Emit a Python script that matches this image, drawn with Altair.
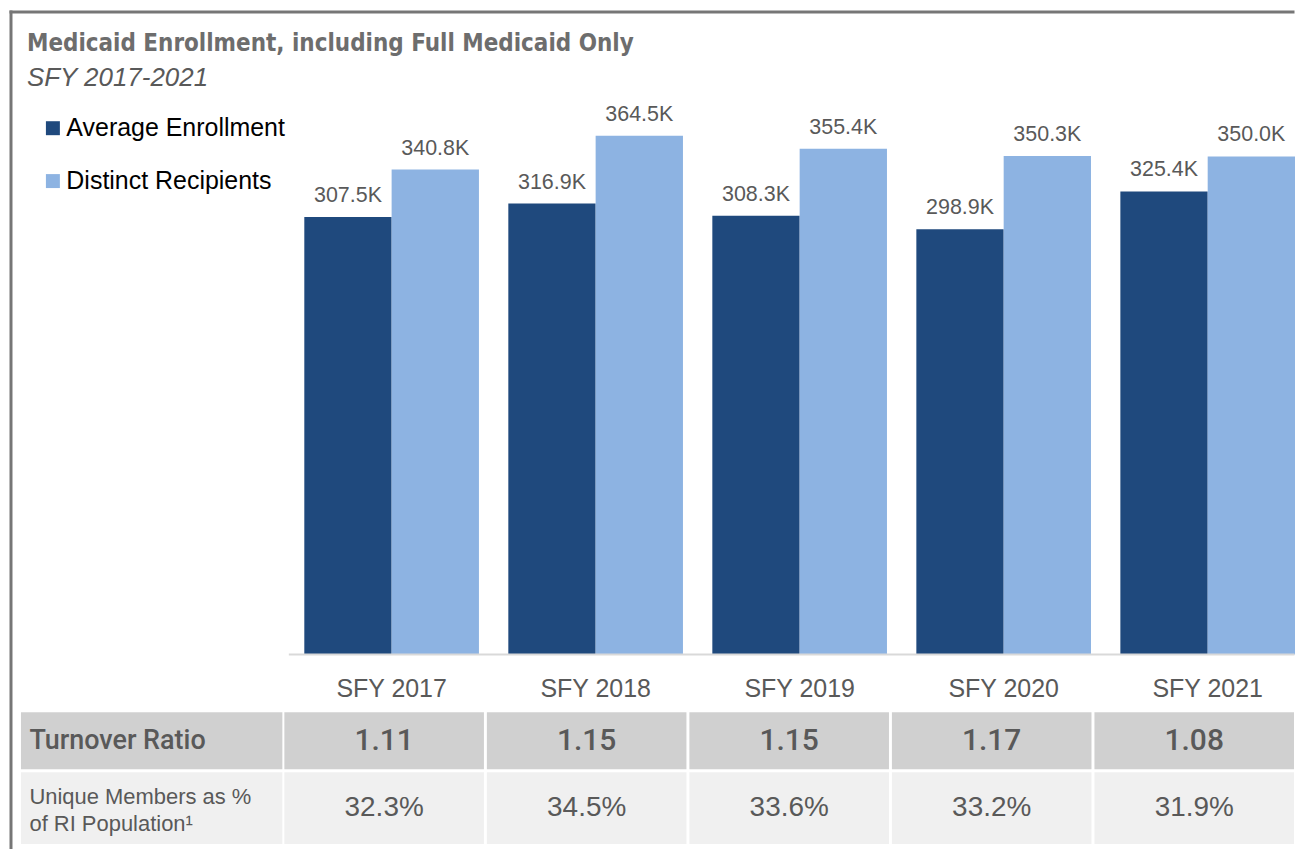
import altair as alt
import pandas as pd

# ---------------- data ----------------
years = ["SFY 2017", "SFY 2018", "SFY 2019", "SFY 2020", "SFY 2021"]
series_names = ["Average Enrollment", "Distinct Recipients"]
avg_enrollment = [307.5, 316.9, 308.3, 298.9, 325.4]          # thousands
distinct_recipients = [340.8, 364.5, 355.4, 350.3, 350.0]     # thousands
turnover_ratio = [1.11, 1.15, 1.15, 1.17, 1.08]
unique_pct = [32.3, 34.5, 33.6, 33.2, 31.9]
row_labels = ["Turnover Ratio", "Unique Members as %\nof RI Population\u00b9"]

# ---------------- styles ----------------
FONT = "Liberation Sans, Arial, sans-serif"
MED_FONT = "Roboto, Liberation Sans, sans-serif"
TITLE_FONT = "DejaVu Sans Condensed, Liberation Sans, sans-serif"
GRAY = "#595959"
DARK = "#1F497D"
LIGHT = "#8DB3E2"
ROW1 = "#D0D0D0"
ROW2 = "#F0F0F0"
BORDER = "#767676"

bars_df = pd.DataFrame(
    [{"year": y, "series": series_names[0], "value": v} for y, v in zip(years, avg_enrollment)]
    + [{"year": y, "series": series_names[1], "value": v} for y, v in zip(years, distinct_recipients)]
)
row1_df = pd.DataFrame({"year": years, "row": row_labels[0], "v": turnover_ratio})
row2_df = pd.DataFrame({"year": years, "row": row_labels[1], "v": unique_pct})

# ---------------- bar chart ----------------
x_enc = alt.X(
    "year:N", sort=years, title=None,
    scale=alt.Scale(paddingInner=0.144, paddingOuter=0.6944, align=1),
    axis=alt.Axis(domain=False, ticks=False, labelAngle=0, labelFontSize=25,
                  labelColor=GRAY, labelFont=FONT, labelPadding=22),
)
xo_enc = alt.XOffset("series:N", sort=series_names,
                     scale=alt.Scale(paddingInner=0, paddingOuter=0))
y_enc = alt.Y("value:Q", axis=None, scale=alt.Scale(domain=[0, 380], nice=False))

base = alt.Chart(bars_df)
bars = base.mark_bar().encode(
    x=x_enc, xOffset=xo_enc, y=y_enc,
    color=alt.Color(
        "series:N", sort=series_names,
        scale=alt.Scale(domain=series_names, range=[DARK, LIGHT]),
        legend=alt.Legend(title=None, orient="none", legendX=19.5, legendY=2,
                          direction="vertical", symbolType="square", symbolSize=196,
                          symbolStrokeWidth=0, labelFontSize=25, labelColor="#000000",
                          labelFont=FONT, labelOffset=1, labelLimit=400,
                          rowPadding=27, padding=0),
    ),
)
labels = base.transform_calculate(
    label="format(datum.value, '.1f') + 'K'"
).mark_text(baseline="alphabetic", dy=-15, fontSize=21.5, color=GRAY, font=FONT).encode(
    x=x_enc, xOffset=xo_enc, y=y_enc, text="label:N"
)
one = pd.DataFrame({"k": [0]})
baseline = alt.Chart(one).mark_rule(color="#D9D9D9", strokeWidth=2).encode(
    y=alt.datum(0), x=alt.value(268.5), x2=alt.value(1276.5)
)
border_top = alt.Chart(one).mark_rule(color=BORDER, strokeWidth=3).encode(
    y=alt.value(-102), x=alt.value(-11.5), x2=alt.value(1276.5)
)
border_left = alt.Chart(one).mark_rule(color=BORDER, strokeWidth=3).encode(
    x=alt.value(-10), y=alt.value(-103.5), y2=alt.value(737)
)
bar_chart = alt.layer(bars, labels, baseline, border_top, border_left).properties(
    width=1277, height=542
)

# ---------------- table ----------------
def label_cell(text, fill, height, size, weight, font, line_h, dy):
    d = pd.DataFrame({"row": [text]})
    bx = alt.X("row:N", axis=None, scale=alt.Scale(paddingInner=0, paddingOuter=0))
    by = alt.Y("row:N", axis=None, scale=alt.Scale(paddingInner=0, paddingOuter=0))
    r = alt.Chart(d).mark_rect(color=fill).encode(x=bx, y=by)
    t = alt.Chart(d).mark_text(align="left", baseline="middle", dx=8.5, dy=dy,
                               fontSize=size, fontWeight=weight, color=GRAY, font=font,
                               lineBreak="\n", lineHeight=line_h).encode(
        x=alt.X("row:N", axis=None, bandPosition=0,
                scale=alt.Scale(paddingInner=0, paddingOuter=0)),
        y=by, text="row:N")
    return alt.layer(r, t).properties(width=262, height=height)


def value_cells(df, fmt, fill, height, size, weight, font):
    bx = alt.X("year:N", sort=years, axis=None,
               scale=alt.Scale(paddingInner=0.0146, paddingOuter=0))
    by = alt.Y("row:N", axis=None, scale=alt.Scale(paddingInner=0, paddingOuter=0))
    c = alt.Chart(df).transform_calculate(label=fmt)
    r = c.mark_rect(color=fill).encode(x=bx, y=by)
    t = c.mark_text(baseline="middle", fontSize=size, fontWeight=weight, color=GRAY,
                    font=font).encode(x=bx, y=by, text="label:N")
    return alt.layer(r, t).properties(width=1012, height=height)


row1 = alt.hconcat(
    label_cell(row_labels[0], ROW1, 57, 27, 500, MED_FONT, 27, 0),
    value_cells(row1_df, "format(datum.v, '.2f')", ROW1, 57, 30, 500, MED_FONT),
    spacing=2,
)
row2 = alt.hconcat(
    label_cell(row_labels[1], ROW2, 72, 22, 400, FONT, 27, -11.5),
    value_cells(row2_df, "format(datum.v, '.1f') + '%'", ROW2, 72, 28, 400, FONT),
    spacing=2,
)
table = alt.vconcat(row1, row2, spacing=3)

chart = alt.vconcat(bar_chart, table, spacing=58, bounds="flush").properties(
    padding=0,
    title=alt.Title(
        text="Medicaid Enrollment, including Full Medicaid Only",
        subtitle="SFY 2017-2021",
        anchor="start", frame="group", dx=6, offset=-82.5, subtitlePadding=9,
        font=TITLE_FONT, fontSize=24, fontWeight="bold", color="#6D6D6D",
        subtitleFont=FONT, subtitleFontSize=26, subtitleFontStyle="italic",
        subtitleColor=GRAY,
    ),
).configure_view(stroke=None)

chart.save("out.html", embed_options={"renderer": "svg", "actions": False})
